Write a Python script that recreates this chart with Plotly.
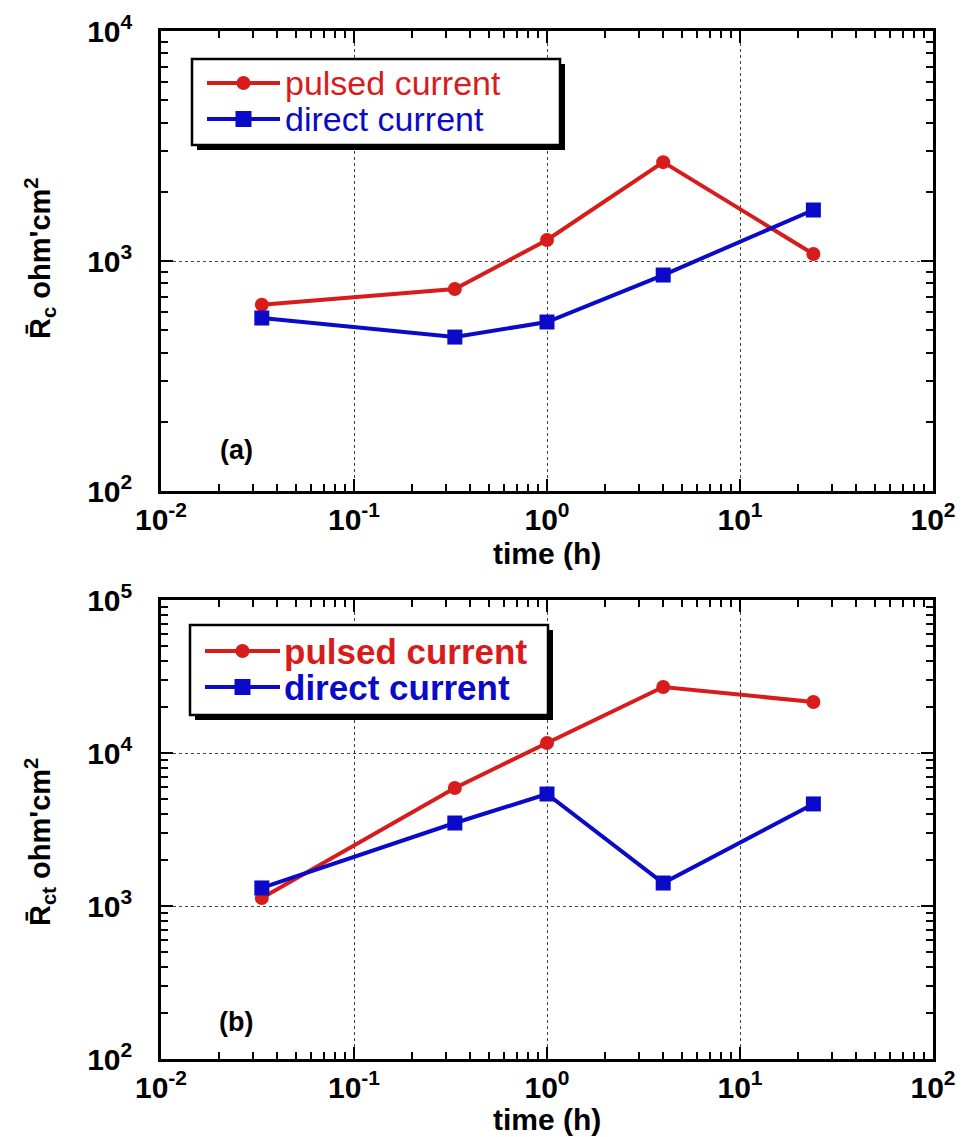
import plotly.graph_objects as go

# immersion time (h)
time_h = [0.0333, 0.333, 1.0, 4.0, 24.0]

# panel (a): coating resistance R_c (ohm cm^2)
rc_pulsed = [645, 755, 1234, 2690, 1073]
rc_direct = [565, 467, 543, 869, 1666]

# panel (b): charge-transfer resistance R_ct (ohm cm^2)
rct_pulsed = [1128, 5906, 11620, 27000, 21540]
rct_direct = [1312, 3486, 5395, 1413, 4645]

series_names = ["pulsed current", "direct current"]
x_tickvals = [0.01, 0.1, 1, 10, 100]
x_ticktext = ["10<sup>-2</sup>", "10<sup>-1</sup>", "10<sup>0</sup>", "10<sup>1</sup>", "10<sup>2</sup>"]
ya_tickvals = [100, 1000, 10000]
ya_ticktext = ["10<sup>2</sup>", "10<sup>3</sup>", "10<sup>4</sup>"]
yb_tickvals = [100, 1000, 10000, 100000]
yb_ticktext = ["10<sup>2</sup>", "10<sup>3</sup>", "10<sup>4</sup>", "10<sup>5</sup>"]

RED = "#d81c1c"
BLUE = "#0a0ac8"
FONT = "Liberation Sans, Arial, sans-serif"

W, H = 963, 1137
fig = go.Figure()

x_dom = [161 / W, 933 / W]
ya_dom = [1 - 491 / H, 1 - 31 / H]
yb_dom = [1 - 1059 / H, 1 - 600 / H]


def minor_vals(decades):
    # 2..9 times each decade, for the log-axis minor ticks
    return [k * d for d in decades[:-1] for k in range(2, 10)]


def add_pair(pulsed, direct, xa, ya):
    fig.add_trace(go.Scatter(
        x=time_h, y=pulsed, mode="lines+markers", name=series_names[0],
        line=dict(color=RED, width=4), marker=dict(symbol="circle", size=14, color=RED),
        xaxis=xa, yaxis=ya, showlegend=False))
    fig.add_trace(go.Scatter(
        x=time_h, y=direct, mode="lines+markers", name=series_names[1],
        line=dict(color=BLUE, width=4), marker=dict(symbol="square", size=15, color=BLUE),
        xaxis=xa, yaxis=ya, showlegend=False))


add_pair(rc_pulsed, rc_direct, "x", "y")
add_pair(rct_pulsed, rct_direct, "x2", "y2")

tickfont = dict(family=FONT, size=30, color="black", weight="bold")
common = dict(
    type="log", showline=True, linecolor="black", linewidth=2.5, mirror="ticks",
    ticks="inside", ticklen=12, tickwidth=2, tickcolor="black",
    showgrid=True, gridcolor="#444444", gridwidth=1, griddash="dot",
    zeroline=False, tickfont=tickfont, automargin=False, tickmode="array",
)


def minor(decades):
    return dict(ticks="inside", ticklen=7, tickwidth=1.5, tickcolor="black",
                showgrid=False, tickmode="array", tickvals=minor_vals(decades))


fig.update_layout(
    xaxis=dict(domain=x_dom, anchor="y", range=[-2, 2], tickvals=x_tickvals,
               ticktext=x_ticktext, ticklabelstandoff=0, minor=minor(x_tickvals), **common),
    yaxis=dict(domain=ya_dom, anchor="x", range=[2, 4], tickvals=ya_tickvals,
               ticktext=ya_ticktext, ticklabelstandoff=20, minor=minor(ya_tickvals), **common),
    xaxis2=dict(domain=x_dom, anchor="y2", range=[-2, 2], tickvals=x_tickvals,
                ticktext=x_ticktext, ticklabelstandoff=0, minor=minor(x_tickvals), **common),
    yaxis2=dict(domain=yb_dom, anchor="x2", range=[2, 5], tickvals=yb_tickvals,
                ticktext=yb_ticktext, ticklabelstandoff=20, minor=minor(yb_tickvals), **common),
    width=W, height=H, margin=dict(l=0, r=0, t=0, b=0),
    plot_bgcolor="white", paper_bgcolor="white", showlegend=False,
)


def px_x(p):
    return p / W


def px_y(p):
    return 1 - p / H


annotations = []
shapes = []


def text(x, y, s, size, bold=True, color="black", angle=0, xanchor="center"):
    annotations.append(dict(
        x=px_x(x), y=px_y(y), xref="paper", yref="paper", text=s, showarrow=False,
        xanchor=xanchor, yanchor="middle", textangle=angle, borderpad=0, borderwidth=0,
        font=dict(family=FONT, size=size, color=color, weight="bold" if bold else "normal")))


# axis titles
text(547, 553, "time (h)", 30)
text(547, 1119, "time (h)", 30)
text(40, 258, "R&#772;<sub>c</sub> ohm'cm<sup>2</sup>", 29, angle=-90)
text(40, 842, "R&#772;<sub>ct</sub> ohm'cm<sup>2</sup>", 29, angle=-90)

# panel labels
text(236, 450, "(a)", 27)
text(236, 1022, "(b)", 27)


def legend_box(x0, y0, x1, y1, rows, text_x, line_x0, line_x1, size, bold):
    # drop shadow, then framed white box
    shapes.append(dict(type="rect", xref="paper", yref="paper",
                       x0=px_x(x0 + 5), x1=px_x(x1 + 5), y0=px_y(y1 + 5), y1=px_y(y0 + 5),
                       fillcolor="black", line=dict(width=0), layer="above"))
    shapes.append(dict(type="rect", xref="paper", yref="paper",
                       x0=px_x(x0), x1=px_x(x1), y0=px_y(y1), y1=px_y(y0),
                       fillcolor="white", line=dict(color="black", width=2.5), layer="above"))
    mx = (line_x0 + line_x1) / 2
    for (ry, name, color, sym) in rows:
        shapes.append(dict(type="line", xref="paper", yref="paper",
                           x0=px_x(line_x0), x1=px_x(line_x1), y0=px_y(ry), y1=px_y(ry),
                           line=dict(color=color, width=4), layer="above"))
        r = 7 if sym == "circle" else 8
        shapes.append(dict(type=sym, xref="paper", yref="paper",
                           x0=px_x(mx - r), x1=px_x(mx + r), y0=px_y(ry + r), y1=px_y(ry - r),
                           fillcolor=color, line=dict(width=0), layer="above"))
        text(text_x, ry, name, size, bold=bold, color=color, xanchor="left")


legend_box(192, 59, 560, 145,
           [(83, series_names[0], RED, "circle"), (119, series_names[1], BLUE, "rect")],
           285, 207, 280, 34, False)
legend_box(190, 625, 548, 715,
           [(651, series_names[0], RED, "circle"), (687, series_names[1], BLUE, "rect")],
           284, 205, 280, 35, True)

fig.update_layout(annotations=annotations, shapes=shapes)

fig.write_html("out.html")
